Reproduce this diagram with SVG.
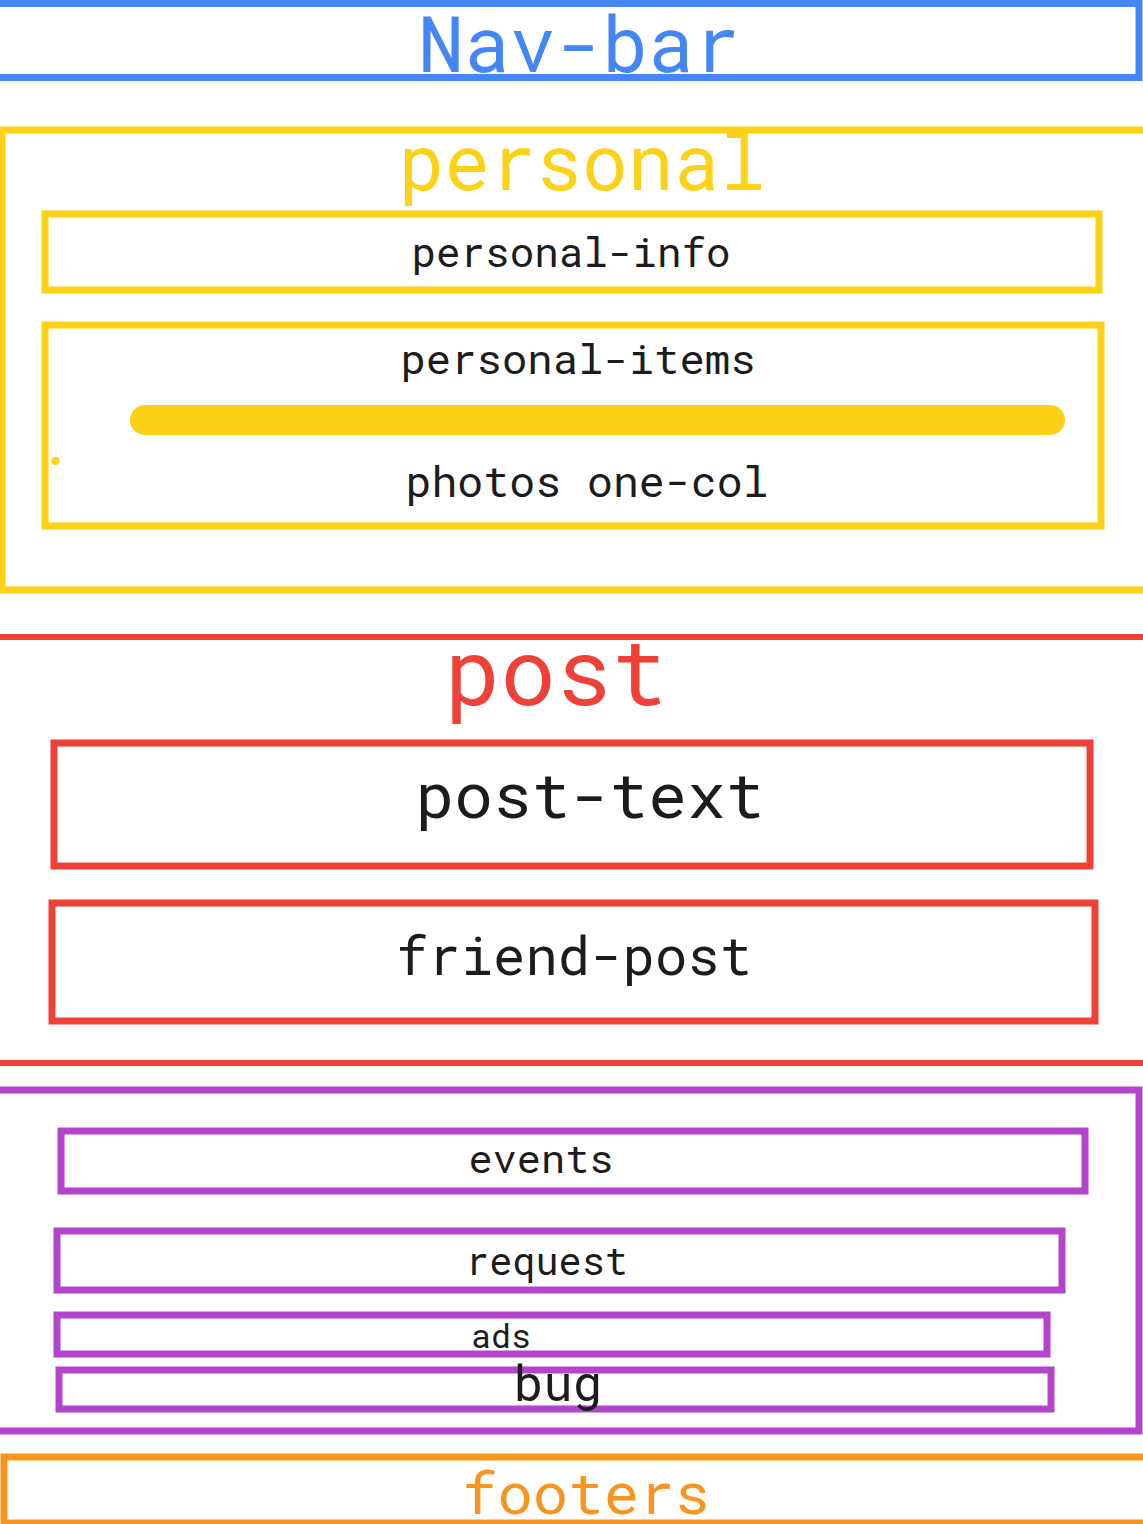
<svg xmlns="http://www.w3.org/2000/svg" width="1143" height="1524" viewBox="0 0 1143 1524">
<style>
text{font-family:"Roboto Mono","DejaVu Sans Mono","Liberation Mono",monospace;text-anchor:middle}
.box{fill:none;stroke-width:7}
.blue{stroke:#4487f4}.yel{stroke:#fcd116}.red{stroke:#ef4138}.pur{stroke:#b444cb}.org{stroke:#f7951f}
.lbl{fill:#1c1c1c}
</style>
<rect width="1143" height="1524" fill="#fff"/>
<g id="nav-bar">
<rect class="box blue" x="-4" y="3.5" width="1143" height="74"/>
<text x="579" y="72" font-size="78" fill="#4487f4" textLength="322" lengthAdjust="spacingAndGlyphs">Nav-bar</text>
</g>
<g id="personal">
<rect class="box yel" x="2" y="130" width="1150" height="460"/>
<text x="582" y="190" font-size="78" fill="#fcd116" textLength="367" lengthAdjust="spacingAndGlyphs">personal</text>
</g>
<g id="personal-info">
<rect class="box yel" x="45" y="214" width="1054" height="76"/>
<text class="lbl" x="571" y="267" font-size="40" textLength="319" lengthAdjust="spacingAndGlyphs">personal-info</text>
</g>
<g id="personal-items">
<rect class="box yel" x="45" y="325" width="1056" height="201"/>
<text class="lbl" x="578" y="374" font-size="41" textLength="355" lengthAdjust="spacingAndGlyphs">personal-items</text>
<line x1="145" y1="420" x2="1050" y2="420" stroke="#fcd116" stroke-width="30" stroke-linecap="round"/>
<circle cx="55.5" cy="461" r="4" fill="#fcd116"/>
<text class="lbl" x="587" y="497" font-size="42" textLength="363" lengthAdjust="spacingAndGlyphs">photos one-col</text>
</g>
<g id="post">
<line class="red" x1="0" y1="637" x2="1143" y2="637" stroke-width="6"/>
<line class="red" x1="0" y1="1063" x2="1143" y2="1063" stroke-width="6"/>
<text x="556" y="705" font-size="92" fill="#ef4138" textLength="223" lengthAdjust="spacingAndGlyphs">post</text>
</g>
<g id="post-text">
<rect class="box red" x="54" y="743" width="1036" height="123"/>
<text class="lbl" x="590" y="818" font-size="63" textLength="349" lengthAdjust="spacingAndGlyphs">post-text</text>
</g>
<g id="friend-post">
<rect class="box red" x="52" y="903" width="1043" height="118"/>
<text class="lbl" x="574" y="975" font-size="54" textLength="356" lengthAdjust="spacingAndGlyphs">friend-post</text>
</g>
<g id="sidebar">
<rect class="box pur" x="-10" y="1090" width="1149" height="341"/>
</g>
<g id="events">
<rect class="box pur" x="61" y="1131" width="1024" height="60"/>
<text class="lbl" x="541" y="1173" font-size="39" textLength="145" lengthAdjust="spacingAndGlyphs">events</text>
</g>
<g id="request">
<rect class="box pur" x="57" y="1231" width="1005" height="59"/>
<text class="lbl" x="547" y="1275" font-size="38" textLength="162" lengthAdjust="spacingAndGlyphs">request</text>
</g>
<g id="ads">
<rect class="box pur" x="57" y="1315" width="990" height="39"/>
<text class="lbl" x="501" y="1348" font-size="33" textLength="60" lengthAdjust="spacingAndGlyphs">ads</text>
</g>
<g id="bug">
<rect class="box pur" x="59" y="1370" width="992" height="39"/>
<text class="lbl" x="558" y="1401" font-size="50" textLength="89" lengthAdjust="spacingAndGlyphs">bug</text>
</g>
<g id="footers">
<rect class="box org" x="4" y="1457" width="1150" height="66" stroke-width="6"/>
<text x="586" y="1514" font-size="58" fill="#f7951f" textLength="248" lengthAdjust="spacingAndGlyphs">footers</text>
</g>
<g id="connectors"></g>
</svg>
